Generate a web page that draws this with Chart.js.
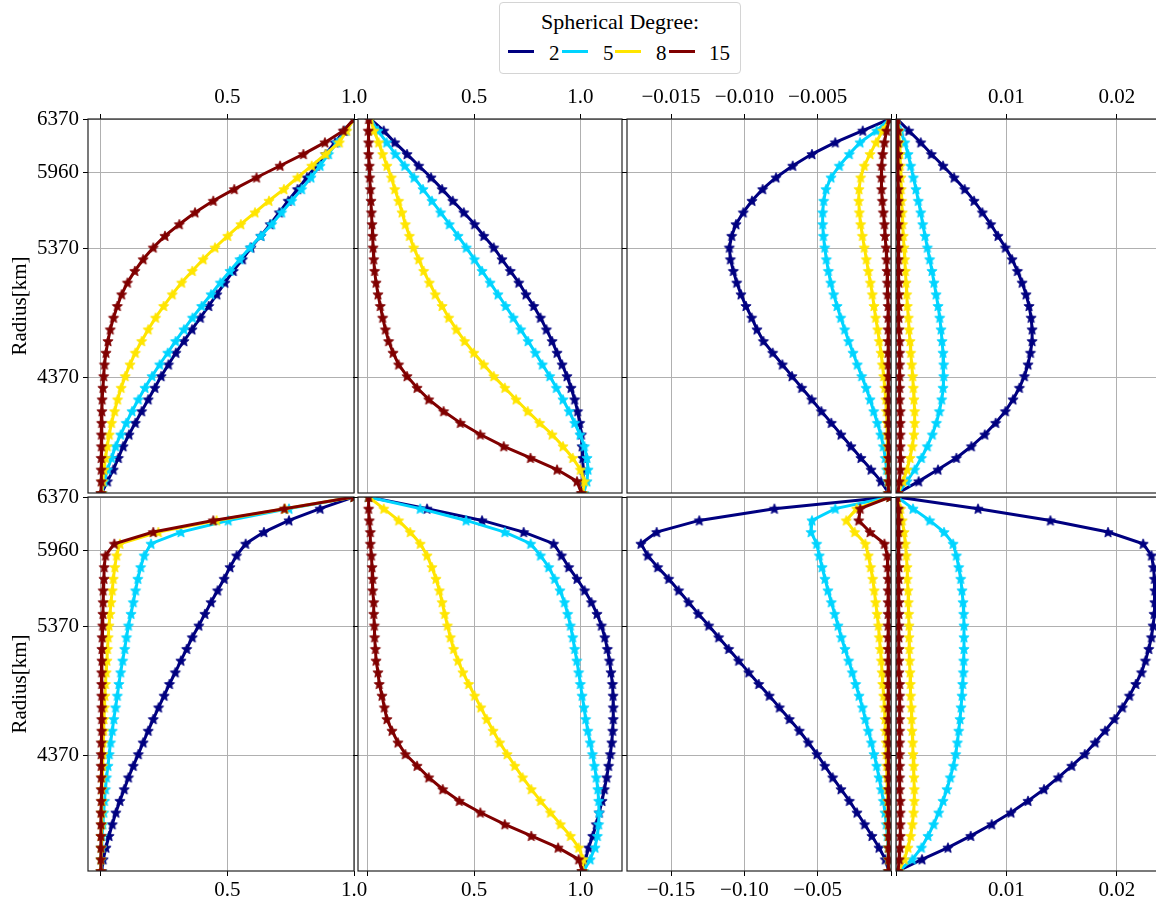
<!DOCTYPE html>
<html>
<head>
<meta charset="utf-8">
<script src="https://cdn.jsdelivr.net/npm/chart.js@4.4.0/dist/chart.umd.min.js"></script>
<style>
  html, body { margin: 0; padding: 0; background: #fff; overflow: hidden; }
  body { width: 1156px; height: 902px; position: relative; font-family: 'Liberation Serif', serif; color: #000; }
  canvas { position: absolute; }
  #legend { position: absolute; left: 499px; top: 2px; width: 242px; height: 72px; box-sizing: border-box;
            border: 1px solid #d4d4d4; border-radius: 4px; background: #fff; }
  #legend span { position: absolute; font-size: 21px; line-height: 21px; white-space: nowrap; }
  #legend span.ttl { font-size: 22px; line-height: 22px; }
  #legend i { position: absolute; height: 3px; width: 26px; }
</style>
</head>
<body>
<div id="legend"></div>
<script>
// radius samples (km), top of the mantle down to the CMB
const radii = [6370, 6280, 6189, 6099, 6009, 5918, 5828, 5738, 5648, 5557, 5467, 5377, 5286, 5196, 5106, 5015,
               4925, 4835, 4744, 4654, 4564, 4473, 4383, 4293, 4203, 4112, 4022, 3932, 3841, 3751, 3661, 3570, 3480];
const radiusTicks = [6370, 5960, 5370, 4370];

const degrees = [2, 5, 8, 15];
const colors = ['#000080', '#00d4ff', '#ffe500', '#800000'];

// x ticks / labels for each column
const ticksUnit = [0, 0.5, 1.0];
const labelsUnit = ['', '0.5', '1.0'];
const ticksNegTop = [-0.015, -0.010, -0.005, 0];
const labelsNegTop = ['\u22120.015', '\u22120.010', '\u22120.005', ''];
const ticksNegBot = [-0.15, -0.10, -0.05, 0];
const labelsNegBot = ['\u22120.15', '\u22120.10', '\u22120.05', ''];
const ticksPos = [0, 0.01, 0.02];
const labelsPos = ['', '0.01', '0.02'];

// top row
const top1_2 = [1.0, 0.962, 0.925, 0.888, 0.851, 0.814, 0.777, 0.740, 0.705, 0.669, 0.632, 0.593, 0.559, 0.523, 0.490, 0.458, 0.426, 0.393, 0.360, 0.328, 0.296, 0.267, 0.238, 0.213, 0.187, 0.161, 0.136, 0.111, 0.088, 0.069, 0.049, 0.026, 0.003];
const top1_5 = [1.0, 0.967, 0.933, 0.899, 0.866, 0.830, 0.793, 0.754, 0.714, 0.675, 0.632, 0.589, 0.549, 0.510, 0.472, 0.435, 0.398, 0.362, 0.328, 0.295, 0.264, 0.232, 0.202, 0.174, 0.148, 0.123, 0.100, 0.078, 0.058, 0.042, 0.026, 0.013, 0.003];
const top1_8 = [1.0, 0.971, 0.942, 0.888, 0.833, 0.777, 0.723, 0.664, 0.609, 0.553, 0.501, 0.451, 0.404, 0.361, 0.319, 0.282, 0.248, 0.216, 0.187, 0.161, 0.136, 0.115, 0.096, 0.080, 0.066, 0.054, 0.042, 0.033, 0.025, 0.018, 0.012, 0.007, 0.003];
const top1_15 = [1.0, 0.958, 0.885, 0.800, 0.708, 0.615, 0.527, 0.444, 0.372, 0.310, 0.253, 0.207, 0.167, 0.134, 0.105, 0.082, 0.065, 0.050, 0.037, 0.028, 0.020, 0.014, 0.011, 0.008, 0.005, 0.004, 0.003, 0.002, 0.002, 0.001, 0.001, 0.001, 0.0];

const top2_2 = [0.011, 0.074, 0.126, 0.184, 0.239, 0.297, 0.349, 0.399, 0.451, 0.502, 0.545, 0.592, 0.631, 0.670, 0.710, 0.744, 0.780, 0.812, 0.840, 0.867, 0.890, 0.914, 0.937, 0.956, 0.973, 0.987, 0.997, 1.005, 1.008, 1.011, 1.013, 1.013, 1.008];
const top2_5 = [0.011, 0.047, 0.088, 0.129, 0.173, 0.217, 0.259, 0.301, 0.342, 0.383, 0.424, 0.463, 0.501, 0.537, 0.575, 0.612, 0.648, 0.684, 0.719, 0.754, 0.788, 0.821, 0.856, 0.887, 0.918, 0.947, 0.973, 0.998, 1.019, 1.031, 1.036, 1.031, 1.016];
const top2_8 = [0.011, 0.028, 0.050, 0.069, 0.089, 0.110, 0.126, 0.144, 0.160, 0.176, 0.195, 0.215, 0.239, 0.262, 0.289, 0.317, 0.349, 0.380, 0.416, 0.455, 0.498, 0.545, 0.592, 0.644, 0.697, 0.752, 0.808, 0.867, 0.918, 0.964, 1.000, 1.019, 1.011];
const top2_15 = [0.003, 0.001, 0.003, 0.003, 0.006, 0.008, 0.011, 0.014, 0.016, 0.019, 0.022, 0.024, 0.027, 0.031, 0.038, 0.047, 0.058, 0.069, 0.082, 0.097, 0.118, 0.144, 0.184, 0.231, 0.286, 0.356, 0.435, 0.529, 0.639, 0.765, 0.890, 0.984, 1.005];

const top3_2 = [-0.0001, -0.00193, -0.00380, -0.00539, -0.00670, -0.00784, -0.00875, -0.00948, -0.01007, -0.01057, -0.01086, -0.01102, -0.01095, -0.01075, -0.01052, -0.01023, -0.00989, -0.00950, -0.00914, -0.00870, -0.00807, -0.00741, -0.00675, -0.00609, -0.00541, -0.00475, -0.00407, -0.00341, -0.00273, -0.00205, -0.00136, -0.00068, -0.00016];
const top3_5 = [-0.0001, -0.00098, -0.00211, -0.00284, -0.00352, -0.00409, -0.00443, -0.00459, -0.00466, -0.00466, -0.00461, -0.00452, -0.00441, -0.00427, -0.00411, -0.00391, -0.00368, -0.00343, -0.00316, -0.00289, -0.00259, -0.00230, -0.00200, -0.00170, -0.00143, -0.00118, -0.00093, -0.00070, -0.00052, -0.00039, -0.00030, -0.00023, -0.00016];
const top3_8 = [-0.0001, -0.00057, -0.00102, -0.00143, -0.00182, -0.00207, -0.00218, -0.00220, -0.00216, -0.00207, -0.00195, -0.00182, -0.00168, -0.00155, -0.00141, -0.00127, -0.00116, -0.00105, -0.00091, -0.00080, -0.00068, -0.00059, -0.00050, -0.00043, -0.00036, -0.00032, -0.00027, -0.00025, -0.00023, -0.00020, -0.00020, -0.00018, -0.00016];
const top3_15 = [-0.0001, -0.00030, -0.00045, -0.00057, -0.00064, -0.00066, -0.00064, -0.00059, -0.00052, -0.00045, -0.00041, -0.00034, -0.00030, -0.00027, -0.00025, -0.00023, -0.00020, -0.00020, -0.00020, -0.00020, -0.00020, -0.00018, -0.00018, -0.00018, -0.00018, -0.00018, -0.00018, -0.00016, -0.00016, -0.00016, -0.00016, -0.00016, -0.00016];

const top4_2 = [0.0001, 0.00115, 0.00224, 0.00320, 0.00426, 0.00526, 0.00622, 0.00707, 0.00782, 0.00858, 0.00924, 0.00991, 0.01051, 0.01100, 0.01142, 0.01178, 0.01205, 0.01224, 0.01233, 0.01233, 0.01218, 0.01196, 0.01163, 0.01118, 0.01060, 0.00991, 0.00903, 0.00804, 0.00683, 0.00547, 0.00381, 0.00205, 0.00018];
const top4_5 = [0.0001, 0.00042, 0.00079, 0.00109, 0.00133, 0.00157, 0.00181, 0.00202, 0.00224, 0.00242, 0.00263, 0.00284, 0.00305, 0.00326, 0.00344, 0.00363, 0.00381, 0.00396, 0.00408, 0.00417, 0.00426, 0.00432, 0.00432, 0.00426, 0.00414, 0.00393, 0.00366, 0.00329, 0.00284, 0.00230, 0.00169, 0.00100, 0.00018];
const top4_8 = [0.0001, 0.00024, 0.00030, 0.00036, 0.00039, 0.00045, 0.00048, 0.00051, 0.00057, 0.00060, 0.00066, 0.00073, 0.00079, 0.00085, 0.00091, 0.00097, 0.00103, 0.00112, 0.00118, 0.00127, 0.00133, 0.00142, 0.00151, 0.00157, 0.00163, 0.00169, 0.00169, 0.00163, 0.00148, 0.00127, 0.00100, 0.00063, 0.00018];
const top4_15 = [0.0001, 0.00018, 0.00018, 0.00018, 0.00018, 0.00018, 0.00021, 0.00021, 0.00021, 0.00021, 0.00021, 0.00021, 0.00021, 0.00027, 0.00027, 0.00027, 0.00027, 0.00027, 0.00027, 0.00033, 0.00033, 0.00033, 0.00033, 0.00033, 0.00033, 0.00039, 0.00039, 0.00039, 0.00039, 0.00042, 0.00039, 0.00030, 0.00018];

// bottom row
const bot1_2 = [1.0, 0.866, 0.743, 0.644, 0.572, 0.536, 0.510, 0.487, 0.461, 0.435, 0.411, 0.387, 0.361, 0.339, 0.316, 0.294, 0.271, 0.250, 0.228, 0.207, 0.187, 0.167, 0.148, 0.128, 0.109, 0.092, 0.075, 0.059, 0.045, 0.032, 0.020, 0.009, 0.003];
const bot1_5 = [1.0, 0.743, 0.503, 0.316, 0.198, 0.171, 0.157, 0.146, 0.137, 0.128, 0.119, 0.109, 0.101, 0.094, 0.086, 0.078, 0.071, 0.065, 0.058, 0.051, 0.045, 0.038, 0.033, 0.028, 0.022, 0.018, 0.014, 0.011, 0.008, 0.005, 0.003, 0.001, 0.0];
const bot1_8 = [1.0, 0.727, 0.457, 0.227, 0.075, 0.062, 0.055, 0.049, 0.045, 0.040, 0.036, 0.032, 0.029, 0.026, 0.024, 0.021, 0.018, 0.016, 0.014, 0.012, 0.011, 0.009, 0.008, 0.007, 0.005, 0.004, 0.004, 0.003, 0.003, 0.001, 0.001, 0.0, 0.0];
const bot1_15 = [1.0, 0.725, 0.444, 0.207, 0.053, 0.018, 0.013, 0.012, 0.009, 0.009, 0.008, 0.007, 0.005, 0.004, 0.004, 0.003, 0.003, 0.003, 0.003, 0.003, 0.003, 0.001, 0.001, 0.001, 0.001, 0.001, 0.001, 0.0, 0.0, 0.0, 0.0, 0.0, 0.0];

const bot2_2 = [0.003, 0.278, 0.537, 0.733, 0.874, 0.911, 0.945, 0.984, 1.020, 1.052, 1.078, 1.099, 1.115, 1.127, 1.137, 1.144, 1.151, 1.154, 1.155, 1.155, 1.152, 1.148, 1.141, 1.133, 1.124, 1.113, 1.102, 1.089, 1.075, 1.058, 1.039, 1.024, 1.008];
const bot2_5 = [0.003, 0.246, 0.462, 0.644, 0.766, 0.812, 0.851, 0.879, 0.904, 0.925, 0.940, 0.953, 0.964, 0.973, 0.983, 0.992, 1.000, 1.008, 1.017, 1.025, 1.035, 1.046, 1.057, 1.066, 1.075, 1.082, 1.086, 1.088, 1.086, 1.080, 1.069, 1.046, 1.016];
const bot2_8 = [0.003, 0.074, 0.144, 0.199, 0.246, 0.278, 0.301, 0.320, 0.336, 0.349, 0.361, 0.374, 0.388, 0.403, 0.424, 0.447, 0.474, 0.502, 0.531, 0.559, 0.589, 0.620, 0.655, 0.691, 0.728, 0.769, 0.812, 0.859, 0.906, 0.953, 0.992, 1.013, 1.011];
const bot2_15 = [0.003, 0.003, 0.006, 0.011, 0.011, 0.016, 0.019, 0.022, 0.022, 0.027, 0.027, 0.030, 0.031, 0.035, 0.038, 0.047, 0.053, 0.066, 0.077, 0.089, 0.113, 0.141, 0.176, 0.231, 0.286, 0.352, 0.430, 0.529, 0.644, 0.769, 0.895, 0.992, 1.008];

const bot3_2 = [-0.0007, -0.0795, -0.1307, -0.1598, -0.1705, -0.1659, -0.1591, -0.1516, -0.1448, -0.1380, -0.1314, -0.1243, -0.1175, -0.1107, -0.1039, -0.0970, -0.0902, -0.0830, -0.0761, -0.0693, -0.0625, -0.0564, -0.0505, -0.0452, -0.0398, -0.0341, -0.0284, -0.0232, -0.0180, -0.0130, -0.0082, -0.0039, -0.0016];
const bot3_5 = [-0.0007, -0.0380, -0.0539, -0.0545, -0.0507, -0.0489, -0.0470, -0.0450, -0.0430, -0.0407, -0.0384, -0.0361, -0.0339, -0.0314, -0.0289, -0.0264, -0.0241, -0.0218, -0.0195, -0.0175, -0.0155, -0.0134, -0.0116, -0.0098, -0.0082, -0.0066, -0.0052, -0.0041, -0.0032, -0.0025, -0.0020, -0.0018, -0.0016];
const bot3_8 = [-0.0007, -0.0234, -0.0305, -0.0248, -0.0175, -0.0155, -0.0139, -0.0125, -0.0114, -0.0105, -0.0095, -0.0086, -0.0080, -0.0073, -0.0066, -0.0061, -0.0057, -0.0050, -0.0045, -0.0041, -0.0039, -0.0034, -0.0032, -0.0030, -0.0027, -0.0025, -0.0023, -0.0020, -0.0020, -0.0018, -0.0018, -0.0016, -0.0016];
const bot3_15 = [-0.0007, -0.0210, -0.0220, -0.0143, -0.0045, -0.0025, -0.0023, -0.0020, -0.0020, -0.0020, -0.0020, -0.0020, -0.0020, -0.0020, -0.0018, -0.0018, -0.0018, -0.0018, -0.0018, -0.0018, -0.0018, -0.0018, -0.0018, -0.0016, -0.0016, -0.0016, -0.0016, -0.0016, -0.0016, -0.0016, -0.0016, -0.0016, -0.0016];

const bot4_2 = [0.0001, 0.00743, 0.01399, 0.01921, 0.02239, 0.02314, 0.02332, 0.02341, 0.02344, 0.02344, 0.02338, 0.02329, 0.02314, 0.02290, 0.02260, 0.02224, 0.02172, 0.02115, 0.02051, 0.01979, 0.01894, 0.01804, 0.01710, 0.01592, 0.01471, 0.01341, 0.01196, 0.01042, 0.00867, 0.00677, 0.00471, 0.00236, 0.00018];
const bot4_5 = [0.0001, 0.00154, 0.00305, 0.00435, 0.00517, 0.00547, 0.00568, 0.00586, 0.00598, 0.00607, 0.00613, 0.00616, 0.00616, 0.00616, 0.00613, 0.00610, 0.00604, 0.00598, 0.00589, 0.00580, 0.00568, 0.00556, 0.00541, 0.00520, 0.00492, 0.00462, 0.00426, 0.00387, 0.00341, 0.00290, 0.00230, 0.00148, 0.00024];
const bot4_8 = [0.0001, 0.00042, 0.00057, 0.00073, 0.00085, 0.00094, 0.00100, 0.00103, 0.00109, 0.00112, 0.00115, 0.00118, 0.00118, 0.00121, 0.00124, 0.00127, 0.00130, 0.00133, 0.00139, 0.00142, 0.00145, 0.00151, 0.00154, 0.00160, 0.00163, 0.00166, 0.00166, 0.00160, 0.00148, 0.00133, 0.00109, 0.00076, 0.00024];
const bot4_15 = [0.0001, 0.00021, 0.00021, 0.00021, 0.00021, 0.00021, 0.00027, 0.00027, 0.00027, 0.00027, 0.00027, 0.00027, 0.00027, 0.00027, 0.00027, 0.00027, 0.00033, 0.00033, 0.00033, 0.00033, 0.00033, 0.00033, 0.00033, 0.00033, 0.00033, 0.00033, 0.00039, 0.00039, 0.00039, 0.00039, 0.00036, 0.00030, 0.00018];

Chart.defaults.font.family = "'Liberation Serif', serif";
Chart.defaults.font.size = 21;
Chart.defaults.color = '#000';

// filled five-point star used as marker
function starMarker(color) {
    const c = document.createElement('canvas');
    c.width = c.height = 14;
    const g = c.getContext('2d');
    const R = 5.4, r = 2.5;
    g.beginPath();
    for (let i = 0; i < 10; i++) {
        const a = -Math.PI / 2 + i * Math.PI / 5;
        const d = i % 2 ? r : R;
        g.lineTo(7 + d * Math.cos(a), 7.5 + d * Math.sin(a));
    }
    g.closePath();
    g.fillStyle = color;
    g.fill();
    g.lineWidth = 0.8;
    g.strokeStyle = color;
    g.stroke();
    return c;
}
const stars = colors.map(starMarker);

// axes box drawn over the curves
const framePlugin = {
    id: 'frame',
    afterDatasetsDraw(chart) {
        const { ctx, chartArea: a } = chart;
        ctx.save();
        ctx.strokeStyle = '#222';
        ctx.lineWidth = 1.2;
        ctx.strokeRect(a.left, a.top, a.right - a.left, a.bottom - a.top);
        ctx.restore();
    }
};

// rows and columns of plot areas, in page pixels
const rows = [{ t: 119, b: 493 }, { t: 497, b: 871 }];
const cols = [{ l: 88, r: 354 }, { l: 358, r: 622 }, { l: 627, r: 891 }, { l: 896, r: 1168 }];

function makePanel(row, col, xMin, xMax, xTicks, xLabels, series) {
    const isTop = row === 0;
    const first = col === 0;
    const area = { l: cols[col].l, r: cols[col].r, t: rows[row].t, b: rows[row].b };
    const padL = first ? area.l : 30;
    const yW = first ? area.l : 8;
    const padR = 25, xH = 40;
    const padT = isTop ? 50 : 20;
    const padB = isTop ? 20 : 50;

    const cv = document.createElement('canvas');
    const w = area.r - area.l + padL + padR;
    const h = area.b - area.t + padT + padB;
    cv.width = w; cv.height = h;
    cv.style.left = (area.l - padL) + 'px';
    cv.style.top = (area.t - padT) + 'px';
    cv.style.width = w + 'px';
    cv.style.height = h + 'px';
    document.body.appendChild(cv);

    const grid = { color: '#b0b0b0', lineWidth: 1, tickColor: '#000', tickLength: 5, tickWidth: 1 };

    new Chart(cv.getContext('2d'), {
        type: 'scatter',
        data: {
            datasets: series.map((vals, i) => ({
                label: String(degrees[i]),
                data: vals.map((v, k) => ({ x: v, y: radii[k] })),
                showLine: true,
                borderColor: colors[i],
                backgroundColor: colors[i],
                borderWidth: 3,
                pointStyle: stars[i],
                pointRadius: 5,
                order: 3 - i,
                clip: 0
            }))
        },
        options: {
            responsive: false,
            animation: false,
            devicePixelRatio: 1,
            events: [],
            layout: {
                padding: {
                    left: padL - yW, right: padR,
                    top: isTop ? padT - xH : padT,
                    bottom: isTop ? padB : padB - xH
                }
            },
            plugins: { legend: { display: false }, tooltip: { enabled: false } },
            scales: {
                x: {
                    type: 'linear',
                    position: isTop ? 'top' : 'bottom',
                    min: xMin, max: xMax,
                    afterBuildTicks: s => { s.ticks = xTicks.map(v => ({ value: v })); },
                    afterFit: s => { s.height = xH; s.paddingLeft = 0; s.paddingRight = 0; },
                    ticks: { callback: (v, i) => xLabels[i], padding: isTop ? 4 : 2, maxRotation: 0, autoSkip: false },
                    grid: grid,
                    border: { display: false }
                },
                y: {
                    type: 'linear',
                    min: 3480, max: 6370,
                    afterBuildTicks: s => { s.ticks = radiusTicks.map(v => ({ value: v })); },
                    afterFit: s => { s.width = yW; s.paddingTop = 0; s.paddingBottom = 0; },
                    ticks: { callback: v => first ? String(v) : '', padding: 4, autoSkip: false },
                    grid: grid,
                    border: { display: false },
                    title: { display: first, text: 'Radius[km]', padding: { top: 8 } }
                }
            }
        },
        plugins: [framePlugin]
    });
}

makePanel(0, 0, -0.051, 1.0, ticksUnit, labelsUnit, [top1_2, top1_5, top1_8, top1_15]);
makePanel(0, 1, -0.047, 1.196, ticksUnit, labelsUnit, [top2_2, top2_5, top2_8, top2_15]);
makePanel(0, 2, -0.018, 0, ticksNegTop, labelsNegTop, [top3_2, top3_5, top3_8, top3_15]);
makePanel(0, 3, 0, 0.02464, ticksPos, labelsPos, [top4_2, top4_5, top4_8, top4_15]);
makePanel(1, 0, -0.051, 1.0, ticksUnit, labelsUnit, [bot1_2, bot1_5, bot1_8, bot1_15]);
makePanel(1, 1, -0.047, 1.196, ticksUnit, labelsUnit, [bot2_2, bot2_5, bot2_8, bot2_15]);
makePanel(1, 2, -0.18, 0, ticksNegBot, labelsNegBot, [bot3_2, bot3_5, bot3_8, bot3_15]);
makePanel(1, 3, 0, 0.02464, ticksPos, labelsPos, [bot4_2, bot4_5, bot4_8, bot4_15]);

// legend: title on top, handles and degree numbers in one row
const legend = document.getElementById('legend');
const title = document.createElement('span');
title.className = 'ttl';
title.textContent = 'Spherical Degree:';
title.style.left = '0px';
title.style.width = '240px';
title.style.textAlign = 'center';
title.style.top = '8px';
legend.appendChild(title);
const handleX = [8, 62, 115, 169];
const labelX = [49, 103, 156, 209];
degrees.forEach((d, i) => {
    const line = document.createElement('i');
    line.style.left = handleX[i] + 'px';
    line.style.top = '47px';
    line.style.background = colors[i];
    legend.appendChild(line);
    const lab = document.createElement('span');
    lab.textContent = String(d);
    lab.style.left = labelX[i] + 'px';
    lab.style.top = '40px';
    legend.appendChild(lab);
});
</script>
</body>
</html>
